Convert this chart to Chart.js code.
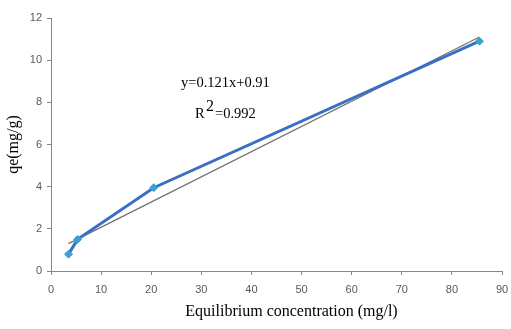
<!DOCTYPE html>
<html><head><meta charset="utf-8">
<script src="https://cdn.jsdelivr.net/npm/chart.js@4/dist/chart.umd.min.js"></script>
<style>html,body{margin:0;padding:0;background:#fff}#wrap{width:511px;height:329px}</style>
</head><body><div id="wrap"><canvas id="c" width="511" height="329"></canvas></div>
<script>
const ceValues = [3.5, 5.3, 20.5, 85.5];
const qeValues = [0.8, 1.5, 3.95, 10.9];
const trendX = [3.5, 85.5];
const trendY = [1.3, 11.1];
const equationText = "y=0.121x+0.91";
const r2Text = "=0.992";
const xTitle = "Equilibrium concentration (mg/l)";
const yTitle = "qe(mg/g)";

const annot = {
  id: 'annot',
  afterDatasetsDraw(chart) {
    const ctx = chart.ctx;
    const a = chart.chartArea;
    ctx.save();
    ctx.fillStyle = '#000';
    ctx.font = '14.5px "Liberation Serif", "Times New Roman", serif';
    ctx.textBaseline = 'middle';
    ctx.textAlign = 'left';
    ctx.fillText(equationText, a.left + 130, a.top + 65);
    ctx.fillText('R', a.left + 144, a.top + 96);
    ctx.font = '16px "Liberation Serif", "Times New Roman", serif';
    ctx.fillText('2', a.left + 155, a.top + 89);
    ctx.font = '14.5px "Liberation Serif", "Times New Roman", serif';
    ctx.fillText(r2Text, a.left + 164, a.top + 96);
    // x-axis title
    ctx.font = '16px "Liberation Serif", "Times New Roman", serif';
    ctx.textAlign = 'center';
    ctx.fillText(xTitle, (a.left + a.right) / 2 + 15, a.bottom + 41);
    ctx.restore();
  }
};

new Chart(document.getElementById('c'), {
  type: 'scatter',
  data: {
    datasets: [
      {
        data: trendX.map((x, i) => ({x, y: trendY[i]})),
        showLine: true,
        borderColor: '#6e6e6e',
        borderWidth: 1.2,
        pointRadius: 0,
        order: 2
      },
      {
        data: ceValues.map((x, i) => ({x, y: qeValues[i]})),
        showLine: true,
        borderColor: '#3a6fc8',
        borderWidth: 3,
        pointStyle: 'rectRot',
        pointRadius: 4,
        pointBackgroundColor: '#3fa0d0',
        pointBorderColor: '#3fa0d0',
        pointBorderWidth: 1,
        order: 1
      }
    ]
  },
  options: {
    responsive: false,
    animation: false,
    devicePixelRatio: 1,
    layout: { padding: { top: 18, right: 0, left: 0, bottom: 0 } },
    plugins: { legend: { display: false }, tooltip: { enabled: false } },
    scales: {
      x: {
        type: 'linear', min: 0, max: 90,
        ticks: { stepSize: 10, color: '#595959', font: { family: '"Liberation Sans", sans-serif', size: 11 }, padding: 8 },
        grid: { drawOnChartArea: false, color: '#868686', tickLength: 4 },
        border: { color: '#868686' },
        title: { display: false },
        afterFit(s) { s.height = 58; s.paddingRight = 9; }
      },
      y: {
        type: 'linear', min: 0, max: 12,
        ticks: { stepSize: 2, color: '#595959', font: { family: '"Liberation Sans", sans-serif', size: 11 }, padding: 5 },
        grid: { drawOnChartArea: false, color: '#868686', tickLength: 4 },
        border: { color: '#868686' },
        title: { display: true, text: yTitle, color: '#000', font: { family: '"Liberation Serif", "Times New Roman", serif', size: 16 }, padding: { bottom: 1 } },
        afterFit(s) { s.width = 51; }
      }
    }
  },
  plugins: [annot]
});
</script></body></html>
